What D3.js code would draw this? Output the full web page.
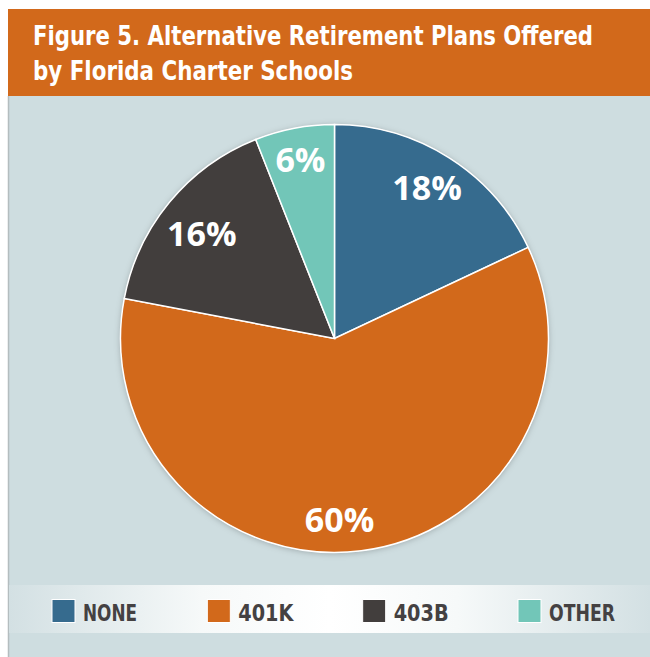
<html>
<head>
<script src="https://d3js.org/d3.v7.min.js"></script>
<style>
  body { margin: 0; background: #fff; }
  .title { font-family: "DejaVu Sans Condensed", "Liberation Sans", sans-serif; font-weight: bold; fill: #fff; font-size: 26px; }
  .slice-label { font-family: "Open Sans", "DejaVu Sans", sans-serif; font-weight: 700; fill: #fff; font-size: 34px; }
  .legend-text { font-family: "DejaVu Sans Condensed", "Liberation Sans", sans-serif; font-weight: bold; fill: #444142; font-size: 23px; }
</style>
</head>
<body>
<svg width="650" height="657"></svg>
<script>
// data
var plans = ["NONE", "401K", "403B", "OTHER"];
var shares = [18, 60, 16, 6];
var colors = ["#366B8E", "#D2691B", "#423E3D", "#72C6B8"];
var titleLines = ["Figure 5. Alternative Retirement Plans Offered", "by Florida Charter Schools"];

var svg = d3.select("svg");
var defs = svg.append("defs");

var grad = defs.append("linearGradient").attr("id", "legendGrad");
grad.append("stop").attr("offset", "0%").attr("stop-color", "#D3E0E3");
grad.append("stop").attr("offset", "30%").attr("stop-color", "#F6F9F9");
grad.append("stop").attr("offset", "50%").attr("stop-color", "#FFFFFF");
grad.append("stop").attr("offset", "70%").attr("stop-color", "#F6F9F9");
grad.append("stop").attr("offset", "100%").attr("stop-color", "#D3E0E3");

var shadow = defs.append("filter").attr("id", "shadow")
  .attr("x", "-10%").attr("y", "-10%").attr("width", "120%").attr("height", "120%");
shadow.append("feDropShadow").attr("dx", 0).attr("dy", 1).attr("stdDeviation", 3)
  .attr("flood-color", "#000").attr("flood-opacity", 0.25);

// background panels
svg.append("rect").attr("x", 8).attr("y", 96).attr("width", 642).attr("height", 561).attr("fill", "#CEDDE0");
svg.append("line").attr("x1", 8.5).attr("x2", 8.5).attr("y1", 96).attr("y2", 657)
  .attr("stroke", "#B4BDBF").attr("stroke-width", 1.5);
svg.append("rect").attr("x", 8).attr("y", 9).attr("width", 642).attr("height", 87).attr("fill", "#D2691B");

var titleWidths = [560, 320];
svg.selectAll("text.title").data(titleLines).enter().append("text")
  .attr("class", "title")
  .attr("x", 33)
  .attr("y", function(d, i) { return 45 + i * 35; })
  .attr("textLength", function(d, i) { return titleWidths[i]; })
  .attr("lengthAdjust", "spacingAndGlyphs")
  .text(function(d) { return d; });

// pie
var cx = 334.5, cy = 338.5, r = 214;
var pie = d3.pie().sort(null).value(function(d) { return d; });
var arc = d3.arc().innerRadius(0).outerRadius(r);

var g = svg.append("g").attr("transform", "translate(" + cx + "," + cy + ")");
var arcs = pie(shares);

g.append("circle").attr("r", r).attr("fill", "#fff").attr("filter", "url(#shadow)");

g.selectAll("path").data(arcs).enter().append("path")
  .attr("d", arc)
  .attr("fill", function(d, i) { return colors[i]; })
  .attr("stroke", "#fff")
  .attr("stroke-width", 1.5);

// label placement: radius fraction and angle nudge (degrees) per slice
var labelR = [0.825, 0.846, 0.79, 0.85];
var labelNudge = [-0.8, 5.6, -1.3, 0];
g.selectAll("text.slice-label").data(arcs).enter().append("text")
  .attr("class", "slice-label")
  .attr("text-anchor", "middle")
  .attr("dy", "0.36em")
  .attr("transform", function(d, i) {
    var a = (d.startAngle + d.endAngle) / 2 + labelNudge[i] * Math.PI / 180;
    var rr = r * labelR[i];
    return "translate(" + (Math.sin(a) * rr) + "," + (-Math.cos(a) * rr) + ")";
  })
  .text(function(d) { return d.data + "%"; });

// legend
svg.append("rect").attr("x", 9).attr("y", 585).attr("width", 641).attr("height", 48).attr("fill", "url(#legendGrad)");

var legendX = d3.scalePoint().domain(plans).range([52, 518]);
var legendW = [54, 55, 55, 66];
var lg = svg.selectAll("g.legend").data(plans).enter().append("g")
  .attr("class", "legend")
  .attr("transform", function(d) { return "translate(" + legendX(d) + ",599.5)"; });
lg.append("rect").attr("width", 23).attr("height", 23)
  .attr("fill", function(d, i) { return colors[i]; })
  .attr("stroke", "#fff").attr("stroke-width", 1);
lg.append("text").attr("class", "legend-text")
  .attr("x", 31).attr("y", 21.5)
  .attr("textLength", function(d, i) { return legendW[i]; })
  .attr("lengthAdjust", "spacingAndGlyphs")
  .text(function(d) { return d; });
</script>
</body>
</html>
